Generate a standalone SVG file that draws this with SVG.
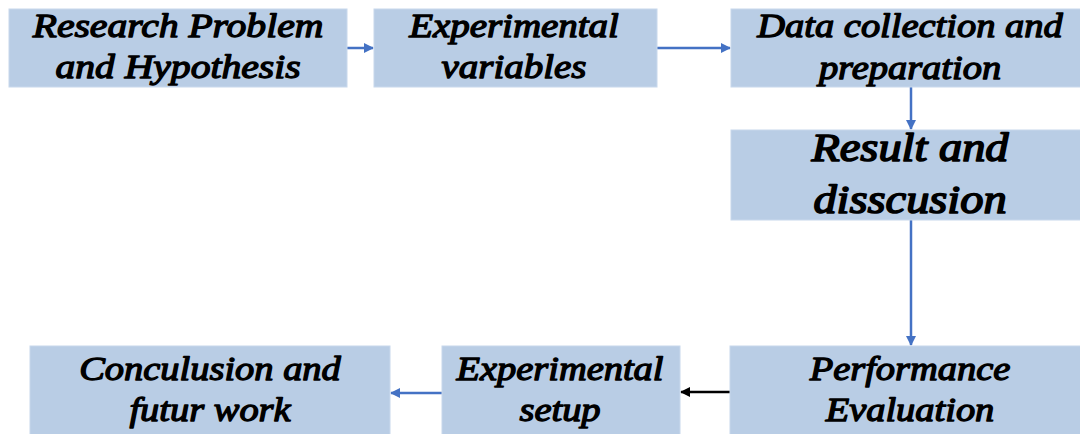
<svg xmlns="http://www.w3.org/2000/svg" width="1080" height="434" viewBox="0 0 1080 434">
  <defs>
    <marker id="ah-blue" viewBox="0 0 10 10" refX="9" refY="5" markerWidth="4" markerHeight="4" orient="auto-start-reverse" markerUnits="strokeWidth">
      <path d="M0,0 L10,5 L0,10 z" fill="#4472c4"/>
    </marker>
    <marker id="ah-black" viewBox="0 0 10 10" refX="9" refY="5" markerWidth="4" markerHeight="4" orient="auto-start-reverse" markerUnits="strokeWidth">
      <path d="M0,0 L10,5 L0,10 z" fill="#000"/>
    </marker>
  </defs>
  <style>
    .box { fill: #b9cde5; stroke: #c8d8ec; stroke-width: 1; }
    /* italic serif, thickened with a thin outline to read as bold italic */
    .lbl { font-family: 'Liberation Serif', 'Times New Roman', serif; font-style: italic; font-size: 33px; fill: #000; stroke: #000; stroke-width: 1.3px; stroke-linejoin: round; text-anchor: middle; }
    .big { font-size: 40px; stroke-width: 1.6px; }
    .link { fill: none; stroke: #4472c4; stroke-width: 2.5; marker-end: url(#ah-blue); }
    .link-dark { fill: none; stroke: #000; stroke-width: 2.5; marker-end: url(#ah-black); }
  </style>
  <rect width="1080" height="434" fill="#ffffff"/>

  <g id="connectors">
    <line class="link" x1="347" y1="48" x2="373" y2="48"/>
    <line class="link" x1="657" y1="48" x2="730" y2="48"/>
    <line class="link" x1="911" y1="87" x2="911" y2="129"/>
    <line class="link" x1="911" y1="220" x2="911" y2="345"/>
    <line class="link-dark" x1="730" y1="392" x2="681" y2="392"/>
    <line class="link" x1="442" y1="393" x2="391" y2="393"/>
  </g>

  <g id="research-problem">
    <rect class="box" x="9" y="9" width="338" height="78"/>
    <text class="lbl" transform="translate(178,0) scale(1.2,1)" x="0" y="37">Research Problem</text>
    <text class="lbl" transform="translate(178,0) scale(1.2,1)" x="0" y="78">and Hypothesis</text>
  </g>

  <g id="experimental-variables">
    <rect class="box" x="374" y="9" width="283" height="78"/>
    <text class="lbl" transform="translate(514,0) scale(1.18,1)" x="0" y="37">Experimental</text>
    <text class="lbl" transform="translate(514,0) scale(1.18,1)" x="0" y="78">variables</text>
  </g>

  <g id="data-collection">
    <rect class="box" x="731" y="9" width="355" height="78"/>
    <text class="lbl" transform="translate(910,0) scale(1.165,1)" x="0" y="37">Data collection and</text>
    <text class="lbl" transform="translate(910,0) scale(1.165,1)" x="0" y="79">preparation</text>
  </g>

  <g id="result-discussion">
    <rect class="box" x="731" y="130" width="355" height="90"/>
    <text class="lbl big" transform="translate(910,0) scale(1.16,1)" x="0" y="161">Result and</text>
    <text class="lbl big" transform="translate(910,0) scale(1.16,1)" x="0" y="213">disscusion</text>
  </g>

  <g id="performance-evaluation">
    <rect class="box" x="730" y="346" width="356" height="94"/>
    <text class="lbl" transform="translate(910,0) scale(1.165,1)" x="0" y="380">Performance</text>
    <text class="lbl" transform="translate(910,0) scale(1.165,1)" x="0" y="421">Evaluation</text>
  </g>

  <g id="experimental-setup">
    <rect class="box" x="442" y="346" width="238" height="94"/>
    <text class="lbl" transform="translate(560,0) scale(1.165,1)" x="0" y="380">Experimental</text>
    <text class="lbl" transform="translate(560,0) scale(1.165,1)" x="0" y="421">setup</text>
  </g>

  <g id="conclusion">
    <rect class="box" x="30" y="346" width="360" height="94"/>
    <text class="lbl" transform="translate(210,0) scale(1.165,1)" x="0" y="380">Conculusion and</text>
    <text class="lbl" transform="translate(210,0) scale(1.165,1)" x="0" y="421">futur work</text>
  </g>
</svg>
